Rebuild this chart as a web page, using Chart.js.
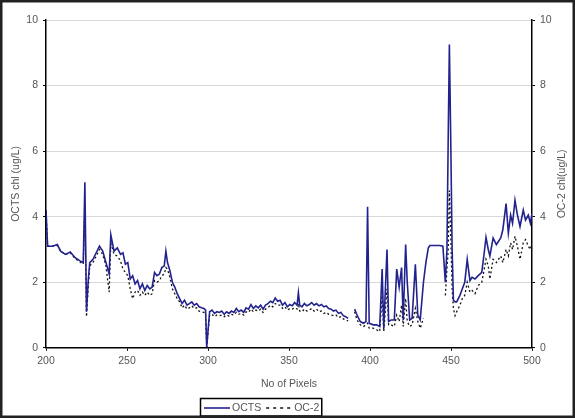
<!DOCTYPE html>
<html>
<head>
<meta charset="utf-8">
<script src="https://cdn.jsdelivr.net/npm/chart.js@4.4.1/dist/chart.umd.min.js"></script>
<style>
  html, body { margin: 0; padding: 0; background: #fff; }
  canvas { display: block; }
</style>
</head>
<body>
<canvas id="chlChart" width="575" height="418"></canvas>
<script>
// pixel number along the transect
const pixels = [
  // 200 - 299
  200, 201, 204, 207, 209, 212, 215, 218, 221, 223,
  224, 225, 226, 227, 229, 231, 233, 235, 237, 239,
  240, 242, 244, 246, 247.5, 249, 250.5, 252, 253.5, 255,
  256.5, 258, 259.5, 261, 262.5, 264, 265.5, 267, 268.5, 270,
  271.5, 273, 274, 275, 276.5, 278, 279.5, 281, 282.5, 284,
  285.5, 287, 288.5, 290, 291.5, 293, 294.5, 296, 297.5, 298.5,
  299.2,
  // 301 - 388
  301, 302.5, 304, 305.5, 307, 308.5, 310, 311.5, 313, 314.5,
  316, 317.5, 319, 320.5, 322, 323.5, 325, 326.5, 328, 329.5,
  331, 332.5, 334, 335.5, 337, 338.5, 340, 341.5, 343, 344.5,
  346, 347.5, 349, 350.5, 352, 353.5, 355, 355.8, 356.6, 358,
  359.5, 361, 362.5, 364, 365.5, 367, 368.5, 370, 371.5, 373,
  374.5, 376, 377.5, 379, 380.5, 382, 383.5, 385, 386.5, 388,
  // 390 - 500
  390.5, 392, 394, 396, 397.5, 398.5, 399.5, 402, 404, 406,
  407.5, 408.5, 410.5, 411.5, 413, 415, 416.5, 418, 419.5, 420.5,
  422, 423, 424.5, 426, 428, 429.5, 431, 433, 434.5, 436,
  437, 443, 445, 446.5, 447.5, 448.3, 449, 449.8, 450.7, 451.5,
  452.5, 453.5, 455.5, 457, 458.5, 460, 461.7, 463, 464.8, 466.8,
  469, 470.5, 471.6, 473, 474, 476, 478, 480.7, 482, 484,
  485.4, 486.8, 488, 489.5, 491, 492.6, 494.6, 496, 497.7, 499,
  500
];

// OCTS chlorophyll (ug/L)
const octsValues = [
  4.2, 3.1, 3.1, 3.15, 2.95, 2.85, 2.92, 2.75, 2.65, 2.6,
  5.05, 1.1, 2.0, 2.6, 2.7, 2.9, 3.1, 2.95, 2.6, 2.25,
  3.45, 2.95, 3.05, 2.85, 2.9, 2.55, 2.6, 2.1, 2.2, 1.95,
  2.05, 1.8, 1.95, 1.75, 1.9, 1.8, 1.85, 2.3, 2.2, 2.25,
  2.45, 2.5, 2.95, 2.6, 2.35, 2.0, 1.85, 1.65, 1.5, 1.35,
  1.45, 1.3, 1.35, 1.4, 1.3, 1.35, 1.25, 1.22, 1.2, 1.15,
  0.02,
  1.1, 1.15, 1.05, 1.1, 1.08, 1.12, 1.02, 1.1, 1.05, 1.12,
  1.08, 1.2, 1.1, 1.15, 1.08, 1.22, 1.18, 1.32, 1.2, 1.28,
  1.22, 1.3, 1.18, 1.3, 1.35, 1.42, 1.38, 1.52, 1.42, 1.45,
  1.3, 1.38, 1.25, 1.32, 1.28, 1.38, 1.3, 1.68, 1.3, 1.25,
  1.35, 1.28, 1.32, 1.38, 1.3, 1.35, 1.28, 1.32, 1.25, 1.28,
  1.2, 1.18, 1.12, 1.15, 1.05, 1.08, 0.98, 0.95, 0.9, null,
  1.18, 1.0, 0.8, 0.75, 0.8, 4.3, 0.75, 0.7, 0.7, 0.65,
  2.4, 0.6, 3.0, 0.8, 0.85, 0.85, 2.4, 1.85, 2.45, 0.85,
  3.15, 2.0, 0.85, 0.9, 2.55, 1.0, 0.85, 2.0, 2.6, 3.05,
  3.12, 3.12, 3.1, 2.0, 3.0, 6.5, 9.25, 6.5, 3.0, 1.45,
  1.4, 1.4, 1.6, 1.8, 2.0, 2.7, 2.05, 2.15, 2.1, 2.2,
  2.3, 2.9, 3.37, 3.0, 2.8, 3.35, 3.15, 3.35, 3.6, 4.4,
  3.5, 4.05, 3.8, 4.5, 4.05, 3.7, 4.2, 3.9, 4.05, 3.8,
  4.1
];

// OC-2 chlorophyll (ug/L)
const oc2Values = [
  4.2, 3.1, 3.1, 3.12, 2.95, 2.85, 2.9, 2.72, 2.62, 2.55,
  4.2, 0.95, 1.8, 2.5, 2.6, 2.8, 3.0, 2.85, 2.5, 1.7,
  3.2, 2.85, 2.8, 2.65, 2.4, 2.3, 2.2, 1.8, 1.5, 1.7,
  1.75, 1.6, 1.7, 1.6, 1.7, 1.6, 1.65, 2.05, 2.0, 2.05,
  2.2, 2.25, 2.45, 2.4, 2.15, 1.8, 1.65, 1.5, 1.4, 1.22,
  1.3, 1.18, 1.22, 1.28, 1.2, 1.22, 1.12, 1.1, 1.08, 1.05,
  0.02,
  1.0, 1.02, 0.95, 1.0, 0.98, 1.0, 0.95, 1.0, 0.97, 1.02,
  1.0, 1.08, 1.02, 1.05, 1.0, 1.1, 1.08, 1.18, 1.1, 1.15,
  1.12, 1.18, 1.08, 1.18, 1.22, 1.3, 1.25, 1.35, 1.3, 1.3,
  1.2, 1.25, 1.15, 1.2, 1.18, 1.22, 1.18, 1.35, 1.12, 1.1,
  1.18, 1.12, 1.15, 1.2, 1.12, 1.18, 1.1, 1.12, 1.05, 1.08,
  1.02, 1.0, 0.98, 1.0, 0.92, 0.95, 0.88, 0.85, 0.82, null,
  1.1, 0.85, 0.7, 0.65, 0.7, 0.75, 0.6, 0.6, 0.55, 0.5,
  1.6, 0.5, 1.8, 0.7, 0.7, 0.65, 1.0, 0.8, 1.3, 0.65,
  1.5, 0.8, 0.65, 0.7, 1.2, 0.8, 0.6, 0.9, null, null,
  null, null, null, 1.6, 2.4, 3.0, 4.8, 3.5, 1.8, 1.2,
  0.98, 1.1, 1.3, 1.5, 1.6, 2.0, 1.7, 1.75, 1.65, 1.9,
  2.0, 2.4, 2.7, 2.5, 2.1, 2.7, 2.6, 2.8, 2.6, 3.0,
  2.8, 3.2, 3.0, 3.4, 3.1, 2.7, 3.2, 3.3, 3.1, 3.0,
  3.2
];

const xTicks = [200, 250, 300, 350, 400, 450, 500];
const yTicks = [0, 2, 4, 6, 8, 10];

const textColor = '#555';
const fontFamily = '"Liberation Sans", Arial, sans-serif';
const octsColor = '#22228f';

function toPoints(vals) {
  return pixels.map((p, i) => ({ x: p, y: vals[i] }));
}

// right axis title (reads bottom to top), legend box and outer frame
const extrasPlugin = {
  id: 'extras',
  afterDraw(chart) {
    const ctx = chart.ctx;
    const area = chart.chartArea;
    ctx.save();
    ctx.font = '10.5px ' + fontFamily;
    ctx.fillStyle = textColor;

    // right axis title
    ctx.save();
    ctx.translate(562, (area.top + area.bottom) / 2);
    ctx.rotate(-Math.PI / 2);
    ctx.textAlign = 'center';
    ctx.textBaseline = 'middle';
    ctx.fillText('OC-2 chl(ug/L)', 0, 0);
    ctx.restore();

    // legend
    const ly = 408;
    let lx = 204;
    const sample = 26;
    const sampleDash = [[], [3, 4]];
    ctx.textBaseline = 'middle';
    ctx.textAlign = 'left';
    chart.data.datasets.forEach((ds, i) => {
      ctx.beginPath();
      ctx.strokeStyle = ds.borderColor;
      ctx.lineWidth = ds.borderWidth;
      ctx.setLineDash(sampleDash[i]);
      ctx.moveTo(lx, ly);
      ctx.lineTo(lx + sample, ly);
      ctx.stroke();
      ctx.setLineDash([]);
      lx += sample + 2;
      ctx.fillStyle = textColor;
      ctx.fillText(ds.label, lx, ly + 0.5);
      lx += ctx.measureText(ds.label).width + 5;
    });
    ctx.strokeStyle = '#000';
    ctx.lineWidth = 1.5;
    ctx.strokeRect(200.5, 398.5, lx - 203, 17.5);

    // outer frame
    ctx.strokeStyle = '#222';
    ctx.lineWidth = 2.5;
    ctx.strokeRect(1.25, 1.25, chart.width - 2.5, chart.height - 2.5);
    ctx.restore();
  }
};

new Chart(document.getElementById('chlChart'), {
  type: 'line',
  data: {
    datasets: [
      {
        label: 'OCTS',
        data: toPoints(octsValues),
        borderColor: octsColor,
        borderWidth: 1.6,
        pointRadius: 0,
        tension: 0,
        spanGaps: false,
        yAxisID: 'y'
      },
      {
        label: 'OC-2',
        data: toPoints(oc2Values),
        borderColor: '#111',
        borderWidth: 1.3,
        borderDash: [2, 2.5],
        pointRadius: 0,
        tension: 0,
        spanGaps: false,
        yAxisID: 'y'
      }
    ]
  },
  options: {
    responsive: false,
    animation: false,
    devicePixelRatio: 1,
    layout: { padding: { top: 20, left: 0, right: 0, bottom: 28 } },
    plugins: {
      legend: { display: false },
      tooltip: { enabled: false }
    },
    scales: {
      x: {
        type: 'linear',
        min: 200,
        max: 500,
        afterBuildTicks: s => { s.ticks = xTicks.map(v => ({ value: v })); },
        ticks: { color: textColor, font: { size: 10.5, family: fontFamily }, padding: 4, maxRotation: 0 },
        grid: { drawOnChartArea: false, tickLength: 3, tickColor: '#000' },
        border: { color: '#000', width: 1.5 },
        title: { display: true, text: 'No of Pixels', color: textColor, font: { size: 10.5, family: fontFamily }, padding: { top: 6, bottom: 0 } }
      },
      y: {
        position: 'left',
        min: 0,
        max: 10,
        afterBuildTicks: s => { s.ticks = yTicks.map(v => ({ value: v })); },
        afterFit: s => { s.width = 46; },
        ticks: { color: textColor, font: { size: 10.5, family: fontFamily }, padding: 5 },
        grid: { color: '#d8d8d8', lineWidth: 1, tickLength: 3, tickColor: '#000' },
        border: { color: '#000', width: 1.5 },
        title: { display: true, text: 'OCTS chl (ug/L)', color: textColor, font: { size: 10.5, family: fontFamily }, padding: { top: 10, bottom: 0 } }
      },
      y2: {
        position: 'right',
        min: 0,
        max: 10,
        afterBuildTicks: s => { s.ticks = yTicks.map(v => ({ value: v })); },
        afterFit: s => { s.width = 43; },
        ticks: { color: textColor, font: { size: 10.5, family: fontFamily }, padding: 5 },
        grid: { drawOnChartArea: false, tickLength: 3, tickColor: '#000' },
        border: { color: '#000', width: 1.5 }
      }
    }
  },
  plugins: [extrasPlugin]
});
</script>
</body>
</html>
